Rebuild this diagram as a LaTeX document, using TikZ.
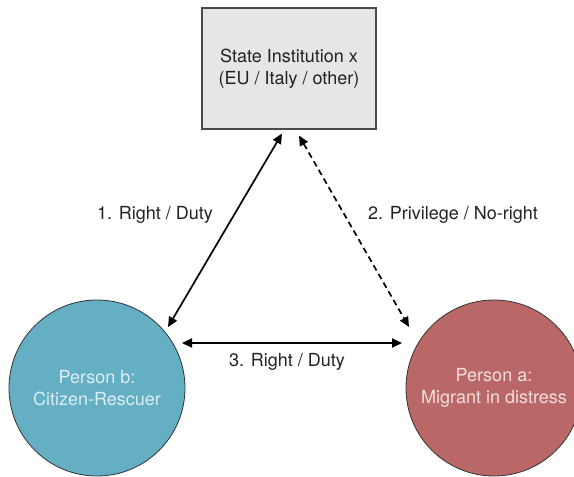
\documentclass[tikz,border=0pt]{standalone}
\usepackage{fontspec}
\setmainfont{TeX Gyre Heros}
\usetikzlibrary{arrows.meta,calc}
\definecolor{boxfill}{HTML}{E6E6E8}
\definecolor{boxline}{HTML}{4A4A4A}
\definecolor{bluefill}{HTML}{64AFC4}
\definecolor{redfill}{HTML}{B96767}
\definecolor{bluetext}{HTML}{DDEEF3}
\definecolor{redtext}{HTML}{F4DEDE}
\definecolor{labeltext}{HTML}{222222}
\tikzset{
  txt/.style={font=\fontsize{18}{22.5}\selectfont, align=center},
  instbox/.style={txt, draw=boxline, fill=boxfill, line width=1.1pt, minimum width=174pt, minimum height=121pt, inner sep=0pt, text=labeltext},
  person/.style={txt, circle, draw=black!80, line width=0.8pt, minimum size=176pt, inner sep=0pt},
  rel/.style={line width=1.7pt, {Triangle[length=10pt,width=9pt]}-{Triangle[length=10pt,width=9pt]}},
  lbl/.style={txt, text=labeltext}
}
\begin{document}
\begin{tikzpicture}[x=1pt,y=1pt]
\useasboundingbox (0,0) rectangle (574,-477);
\node[instbox] (inst) at (289,-68.5) {State Institution x\\(EU / Italy / other)};
\node[person, fill=bluefill, text=bluetext] (pb) at (97,-388) {Person b:\\Citizen-Rescuer};
\node[person, fill=redfill, text=redtext] (pa) at (494,-388) {Person a:\\Migrant in distress};
\coordinate (i1) at ($(inst.south)+(-7,-4)$);
\coordinate (i2) at ($(inst.south)+(10,-6)$);
\coordinate (b1) at ($(pb.center)+(71,61)$);
\coordinate (b3) at ($(pb.center)+(85,45)$);
\coordinate (a2) at ($(pa.center)+(-85,61)$);
\coordinate (a3) at ($(pa.center)+(-92,45)$);
\draw[rel] (b1) -- (i1);
\draw[rel, dash pattern=on 6pt off 4pt] (i2) -- (a2);
\draw[rel] (b3) -- (a3);
\node[lbl] (l1) at (155,-215) {1. Right / Duty};
\node[lbl] (l2) at (453,-215) {2. Privilege / No-right};
\node[lbl] (l3) at (287,-362) {3. Right / Duty};
\end{tikzpicture}
\end{document}
